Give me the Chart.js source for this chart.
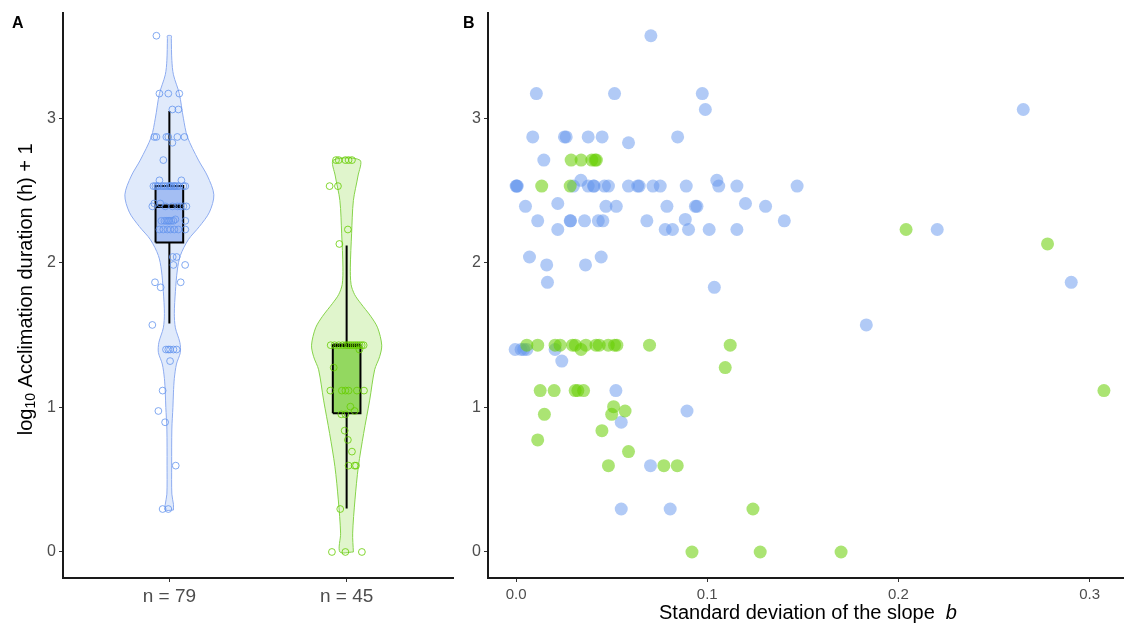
<!DOCTYPE html>
<html>
<head>
<meta charset="utf-8">
<script src="https://cdn.jsdelivr.net/npm/chart.js@4.4.0/dist/chart.umd.min.js"></script>
<style>
  html, body { margin: 0; padding: 0; background: #fff; }
  #wrap { position: relative; width: 1124px; height: 628px; }
  #chartA { position: absolute; left: 0; top: 0; }
  #chartB { position: absolute; left: 460px; top: 0; }
</style>
</head>
<body>
<div id="wrap">
  <canvas id="chartA" width="460" height="628"></canvas>
  <canvas id="chartB" width="664" height="628"></canvas>
</div>
<script>
// categorias y ticks
const catPos = [0, 1];
const catLabels = ['n = 79', 'n = 45'];
const yTicks = [0, 1, 2, 3];
const sdTicks = [0, 0.1, 0.2, 0.3];

// grupo azul: log10 duracion, sd de la pendiente, jitter del panel A
const blueY = [3.57, 3.17, 3.17, 3.17, 3.06, 3.06, 2.87, 2.87, 2.87, 2.87, 2.87, 2.83, 2.87, 2.71,
  2.53, 2.53, 2.53, 2.57, 2.53, 2.53, 2.53, 2.53, 2.53, 2.53, 2.53, 2.53, 2.53, 2.53, 2.57, 2.53, 2.53, 2.53, 2.53,
  2.39, 2.41, 2.39, 2.39, 2.39, 2.39, 2.39, 2.41, 2.39,
  2.29, 2.29, 2.29, 2.29, 2.29, 2.29, 2.29, 2.30, 2.29,
  2.23, 2.23, 2.23, 2.23, 2.23, 2.23, 2.23,
  2.04, 2.04, 1.985, 1.985, 1.865, 1.865, 1.83, 1.57,
  1.40, 1.40, 1.40, 1.40, 1.40, 1.32, 1.116, 0.975, 0.897, 0.597, 0.297, 0.297, 2.53];
const blueSD = [0.0705, 0.0106, 0.0515, 0.0974, 0.099, 0.2653, 0.0087, 0.0253, 0.0262, 0.0377, 0.045, 0.0588, 0.0845, 0.0145,
  0.000, 0.0006, 0.030, 0.0339, 0.0377, 0.0408, 0.0462, 0.0483, 0.0588, 0.0636, 0.0644, 0.0716, 0.0754, 0.089, 0.105, 0.106, 0.1155, 0.147, 0.0405,
  0.0049, 0.0218, 0.047, 0.0524, 0.0789, 0.0938, 0.0946, 0.120, 0.1305,
  0.0113, 0.0283, 0.0285, 0.0358, 0.043, 0.0454, 0.0684, 0.0885, 0.1403,
  0.0218, 0.078, 0.0818, 0.0902, 0.101, 0.1155, 0.2203,
  0.007, 0.0445, 0.016, 0.0363, 0.0164, 0.2904, 0.1037, 0.1832,
  -0.0005, 0.0026, 0.004, 0.0056, 0.0204, 0.0239, 0.0522, 0.0894, 0.055, 0.0703, 0.055, 0.0806, 0.0003];
const blueJitter = [-0.073, -0.056, -0.006, 0.056, 0.017, 0.051, -0.085, -0.073, -0.017, -0.006, 0.045, 0.017, 0.085, -0.034,
  -0.090, -0.079, -0.068, -0.056, -0.045, -0.034, -0.023, -0.011, 0.000, 0.011, 0.023, 0.034, 0.045, 0.056, 0.068, 0.079, 0.090, -0.062, 0.028,
  -0.096, -0.085, 0.079, 0.096, -0.023, 0.017, 0.045, -0.051, 0.062,
  -0.045, -0.028, -0.017, -0.006, 0.000, 0.011, 0.023, 0.034, 0.090,
  -0.056, -0.034, -0.011, 0.006, 0.028, 0.051, 0.090,
  0.019, 0.041, 0.023, 0.089, -0.081, 0.064, -0.049, -0.096,
  -0.019, 0.004, 0.041, -0.006, 0.023, 0.004, -0.038, -0.062, -0.024, 0.036, -0.038, -0.006, 0.006];

// grupo verde
const greenY = [2.71, 2.71, 2.71, 2.71, 2.71, 2.53, 2.53, 2.23, 2.13,
  1.43, 1.43, 1.43, 1.43, 1.43, 1.43, 1.43, 1.43, 1.43, 1.43, 1.43, 1.43, 1.43, 1.43,
  1.40, 1.275, 1.116, 1.116, 1.116, 1.116, 1.116, 1.116,
  1.005, 0.952, 0.975, 0.952, 0.839, 0.775, 0.694, 0.597, 0.597, 0.597, 0.297, 0, 0, 0];
const greenSD = [0.0288, 0.0340, 0.0396, 0.0413, 0.0420, 0.0134, 0.0283, 0.204, 0.278,
  0.0056, 0.0113, 0.0204, 0.0230, 0.0295, 0.0310, 0.0365, 0.0418, 0.0435, 0.0482, 0.0515, 0.0527, 0.0698, 0.112,
  0.034, 0.1094, 0.0126, 0.0199, 0.0309, 0.0323, 0.0353, 0.3075,
  0.051, 0.050, 0.057, 0.0148, 0.0449, 0.0113, 0.0588, 0.0483, 0.0773, 0.0843, 0.1239, 0.092, 0.1277, 0.170];
const greenJitter = [-0.060, -0.045, -0.007, 0.011, 0.030, -0.096, -0.049, 0.007, -0.041,
  -0.090, -0.068, -0.045, -0.023, -0.006, 0.006, 0.017, 0.028, 0.040, 0.051, 0.062, 0.073, 0.085, 0.096,
  0.072, -0.073, -0.092, -0.027, -0.007, 0.058, 0.098, 0.011,
  0.021, -0.007, 0.045, -0.030, -0.011, 0.007, 0.030, 0.011, 0.045, 0.053, -0.036, -0.083, -0.007, 0.086];

// perfil de los violines (semiancho en unidades de categoria)
const blueViolinY = [0.29, 0.33, 0.4, 0.6, 0.85, 1.0, 1.1, 1.2, 1.3, 1.38, 1.45, 1.55, 1.65, 1.8, 1.95, 2.05, 2.16, 2.25, 2.35, 2.47, 2.6, 2.71, 2.87, 3.0, 3.17, 3.3, 3.4, 3.55, 3.57];
const blueViolinHalf = [0.023, 0.023, 0.014, 0.013, 0.014, 0.020, 0.023, 0.028, 0.040, 0.062, 0.059, 0.034, 0.028, 0.034, 0.045, 0.062, 0.107, 0.169, 0.226, 0.251, 0.215, 0.164, 0.102, 0.079, 0.056, 0.023, 0.014, 0.011, 0.011];
const greenViolinY = [0, 0.13, 0.36, 0.59, 0.82, 1.05, 1.26, 1.35, 1.43, 1.55, 1.63, 1.72, 1.78, 1.85, 1.97, 2.2, 2.43, 2.6, 2.71];
const greenViolinHalf = [0.038, 0.034, 0.047, 0.066, 0.096, 0.130, 0.158, 0.186, 0.198, 0.175, 0.136, 0.079, 0.045, 0.025, 0.021, 0.028, 0.038, 0.064, 0.075];

// boxplot: bigote inf, Q1, mediana, Q3, bigote sup
const blueBox = [1.58, 2.14, 2.39, 2.53, 3.05];
const greenBox = [0.30, 0.96, 1.43, 1.43, 2.12];

const FONT = '"Liberation Sans", Arial, sans-serif';
const BOX_HALF = 0.078;

function violinPath(cx, ys, halves) {
  const right = ys.map((y, i) => ({ x: cx + halves[i], y: y }));
  const left = ys.map((y, i) => ({ x: cx - halves[i], y: y })).reverse();
  return right.concat(left, [right[0]]);
}

function boxRect(cx, b) {
  return [
    { x: cx - BOX_HALF, y: b[1] }, { x: cx + BOX_HALF, y: b[1] },
    { x: cx + BOX_HALF, y: b[3] }, { x: cx - BOX_HALF, y: b[3] },
    { x: cx - BOX_HALF, y: b[1] }
  ];
}

// texto con partes de distinto estilo
function drawRich(ctx, parts, x, y, rotate) {
  ctx.save();
  ctx.translate(x, y);
  if (rotate) ctx.rotate(-Math.PI / 2);
  let total = 0;
  parts.forEach(p => { ctx.font = p.font; total += ctx.measureText(p.text).width; });
  let pos = -total / 2;
  ctx.textBaseline = 'middle';
  ctx.textAlign = 'left';
  parts.forEach(p => {
    ctx.font = p.font;
    ctx.fillStyle = '#000';
    ctx.fillText(p.text, pos, p.dy || 0);
    pos += ctx.measureText(p.text).width;
  });
  ctx.restore();
}

function axisCommon(extra) {
  return Object.assign({
    type: 'linear',
    grid: { display: true, drawOnChartArea: false, drawTicks: true, tickLength: 4, color: '#333', tickWidth: 1 },
    border: { display: true, color: '#1a1a1a', width: 2 },
    ticks: { color: '#4d4d4d', font: { family: FONT, size: 15 }, padding: 3 }
  }, extra);
}

const textA = {
  id: 'textA',
  afterDraw(chart) {
    const ctx = chart.ctx;
    ctx.save();
    ctx.font = 'bold 16px ' + FONT;
    ctx.fillStyle = '#000';
    ctx.textBaseline = 'alphabetic';
    ctx.fillText('A', 12, 28);
    ctx.restore();
    const area = chart.chartArea;
    drawRich(ctx, [
      { text: 'log', font: '20px ' + FONT },
      { text: '10', font: '14px ' + FONT, dy: 5 },
      { text: ' Acclimation duration (h) + 1', font: '20px ' + FONT }
    ], 26, (area.top + area.bottom) / 2 - 6, true);
  }
};

const textB = {
  id: 'textB',
  afterDraw(chart) {
    const ctx = chart.ctx;
    ctx.save();
    ctx.font = 'bold 16px ' + FONT;
    ctx.fillStyle = '#000';
    ctx.fillText('B', 3, 28);
    ctx.restore();
    const area = chart.chartArea;
    drawRich(ctx, [
      { text: 'Standard deviation of the slope  ', font: '20px ' + FONT },
      { text: 'b', font: 'italic 20px ' + FONT }
    ], (area.left + area.right) / 2 + 2, 613, false);
  }
};

const lineBase = { showLine: true, pointRadius: 0, tension: 0 };

new Chart(document.getElementById('chartA'), {
  type: 'scatter',
  data: {
    datasets: [
      Object.assign({}, lineBase, {
        data: violinPath(catPos[0], blueViolinY, blueViolinHalf),
        borderColor: '#8eacf0', borderWidth: 1, backgroundColor: 'rgba(100,149,237,0.2)',
        fill: 'shape', tension: 0.3, order: 10
      }),
      Object.assign({}, lineBase, {
        data: violinPath(catPos[1], greenViolinY, greenViolinHalf),
        borderColor: '#86d34a', borderWidth: 1, backgroundColor: 'rgba(102,205,0,0.2)',
        fill: 'shape', tension: 0.3, order: 10
      }),
      Object.assign({}, lineBase, {
        data: [{ x: catPos[0], y: blueBox[0] }, { x: catPos[0], y: blueBox[4] }],
        borderColor: '#000', borderWidth: 2, order: 8
      }),
      Object.assign({}, lineBase, {
        data: [{ x: catPos[1], y: greenBox[0] }, { x: catPos[1], y: greenBox[4] }],
        borderColor: '#000', borderWidth: 2, order: 8
      }),
      Object.assign({}, lineBase, {
        data: boxRect(catPos[0], blueBox),
        borderColor: '#000', borderWidth: 2, backgroundColor: '#a4bef3', fill: 'shape', order: 6
      }),
      Object.assign({}, lineBase, {
        data: boxRect(catPos[1], greenBox),
        borderColor: '#000', borderWidth: 2, backgroundColor: '#93d860', fill: 'shape', order: 6
      }),
      Object.assign({}, lineBase, {
        data: [{ x: catPos[0] - BOX_HALF, y: blueBox[2] }, { x: catPos[0] + BOX_HALF, y: blueBox[2] }],
        borderColor: '#000', borderWidth: 3.5, order: 5
      }),
      Object.assign({}, lineBase, {
        data: [{ x: catPos[1] - BOX_HALF, y: greenBox[2] }, { x: catPos[1] + BOX_HALF, y: greenBox[2] }],
        borderColor: '#000', borderWidth: 3.5, order: 5
      }),
      {
        data: blueY.map((y, i) => ({ x: catPos[0] + blueJitter[i], y: y })),
        pointRadius: 3.4, pointBorderWidth: 1, pointBackgroundColor: 'rgba(0,0,0,0)',
        pointBorderColor: 'rgba(100,149,237,0.8)', order: 1
      },
      {
        data: greenY.map((y, i) => ({ x: catPos[1] + greenJitter[i], y: y })),
        pointRadius: 3.4, pointBorderWidth: 1, pointBackgroundColor: 'rgba(0,0,0,0)',
        pointBorderColor: 'rgba(102,205,0,0.8)', order: 1
      }
    ]
  },
  options: {
    responsive: false,
    animation: false,
    events: [],
    layout: { autoPadding: false, padding: { top: 12, right: 7, left: 0, bottom: 0 } },
    plugins: { legend: { display: false }, tooltip: { enabled: false } },
    scales: {
      x: axisCommon({
        min: -0.6, max: 1.6,
        afterBuildTicks: s => { s.ticks = catPos.map(v => ({ value: v })); },
        afterFit: s => { s.height = 50; },
        ticks: {
          color: '#4d4d4d', font: { family: FONT, size: 19 }, padding: 3,
          callback: (v, i) => catLabels[i]
        }
      }),
      y: axisCommon({
        min: -0.18, max: 3.73,
        afterBuildTicks: s => { s.ticks = yTicks.map(v => ({ value: v })); },
        afterFit: s => { s.width = 63; },
        ticks: { color: '#4d4d4d', font: { family: FONT, size: 16 }, padding: 3, callback: v => String(v) }
      })
    }
  },
  plugins: [textA]
});

new Chart(document.getElementById('chartB'), {
  type: 'scatter',
  data: {
    datasets: [
      {
        data: blueSD.map((x, i) => ({ x: x, y: blueY[i] })),
        pointRadius: 6.5, borderWidth: 0, backgroundColor: 'rgba(100,149,237,0.5)', order: 2
      },
      {
        data: greenSD.map((x, i) => ({ x: x, y: greenY[i] })),
        pointRadius: 6.5, borderWidth: 0, backgroundColor: 'rgba(102,205,0,0.55)', order: 1
      }
    ]
  },
  options: {
    responsive: false,
    animation: false,
    events: [],
    layout: { autoPadding: false, padding: { top: 12, right: 0, left: 0, bottom: 0 } },
    plugins: { legend: { display: false }, tooltip: { enabled: false } },
    scales: {
      x: axisCommon({
        min: -0.0147, max: 0.318,
        afterBuildTicks: s => { s.ticks = sdTicks.map(v => ({ value: v })); },
        afterFit: s => { s.height = 50; },
        ticks: { color: '#4d4d4d', font: { family: FONT, size: 15 }, padding: 4, callback: v => v.toFixed(1) }
      }),
      y: axisCommon({
        min: -0.18, max: 3.73,
        afterBuildTicks: s => { s.ticks = yTicks.map(v => ({ value: v })); },
        afterFit: s => { s.width = 28; },
        ticks: { color: '#4d4d4d', font: { family: FONT, size: 16 }, padding: 3, callback: v => String(v) }
      })
    }
  },
  plugins: [textB]
});
</script>
</body>
</html>
